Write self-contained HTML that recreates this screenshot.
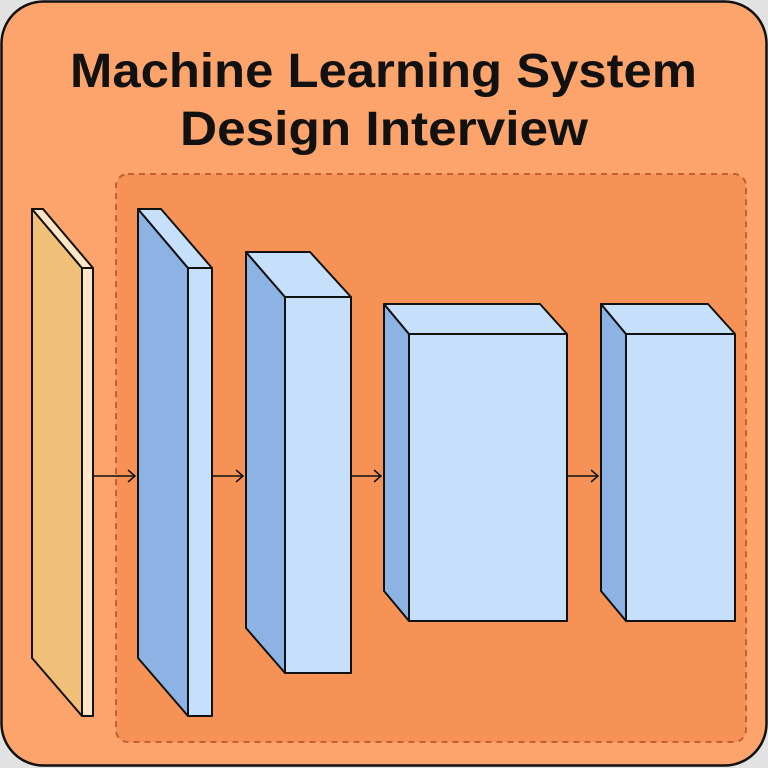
<!DOCTYPE html>
<html><head><meta charset="utf-8"><style>
html,body{margin:0;padding:0;background:#e2e2e2;}
svg{display:block}
</style></head><body>
<svg width="768" height="768" viewBox="0 0 768 768" xmlns="http://www.w3.org/2000/svg">
<rect x="0" y="0" width="768" height="768" fill="#e2e2e2"/>
<rect x="1.5" y="1.5" width="765" height="764" rx="42" fill="#fda36c" stroke="#111" stroke-width="2.5"/>
<text x="70" y="87" textLength="627" lengthAdjust="spacingAndGlyphs" font-family="Liberation Sans, sans-serif" font-weight="bold" font-size="48" fill="#111">Machine Learning System</text>
<text x="180" y="145" textLength="408" lengthAdjust="spacingAndGlyphs" font-family="Liberation Sans, sans-serif" font-weight="bold" font-size="48" fill="#111">Design Interview</text>
<rect x="116" y="174" width="630" height="568" rx="12" fill="#f79257" stroke="#c25f34" stroke-width="2" stroke-dasharray="6,5"/>
<g stroke="#111" stroke-width="2" stroke-linejoin="round">
<polygon points="32,209 82,268 82,716 32,658" fill="#f0c078"/>
<polygon points="32,209 43,209 93,268 82,268" fill="#fde5c5"/>
<rect x="82" y="268" width="11" height="448" fill="#fde5c5"/>
<polygon points="138,209 188,268 188,716 138,658" fill="#8cb3e3"/>
<polygon points="138,209 161,209 212,268 188,268" fill="#c6e0fc"/>
<rect x="188" y="268" width="24" height="448" fill="#c6e0fc"/>
<polygon points="246,252 285,297 285,673 246,628" fill="#8cb3e3"/>
<polygon points="246,252 310,252 351,297 285,297" fill="#c6e0fc"/>
<rect x="285" y="297" width="66" height="376" fill="#c6e0fc"/>
<polygon points="384,304 409,334 409,621 384,591" fill="#8cb3e3"/>
<polygon points="384,304 540,304 567,334 409,334" fill="#c6e0fc"/>
<rect x="409" y="334" width="158" height="287" fill="#c6e0fc"/>
<polygon points="601,304 626,334 626,621 601,591" fill="#8cb3e3"/>
<polygon points="601,304 708,304 735,334 626,334" fill="#c6e0fc"/>
<rect x="626" y="334" width="109" height="287" fill="#c6e0fc"/>
</g>
<g stroke="#111" stroke-width="1.5" fill="none">
<line x1="94" y1="476" x2="135" y2="476"/><polyline points="128,470 135,476 128,482"/>
<line x1="213" y1="476" x2="243" y2="476"/><polyline points="236,470 243,476 236,482"/>
<line x1="352" y1="476" x2="381" y2="476"/><polyline points="374,470 381,476 374,482"/>
<line x1="568" y1="476" x2="598" y2="476"/><polyline points="591,470 598,476 591,482"/>
</g>
</svg>
</body></html>
